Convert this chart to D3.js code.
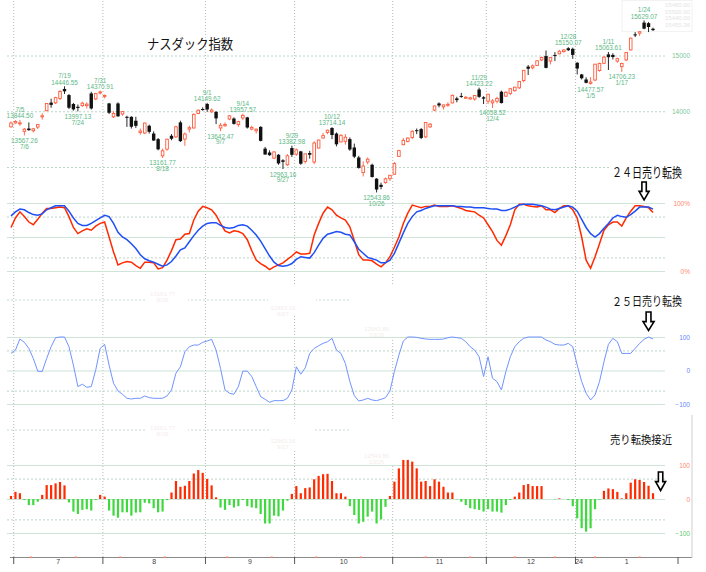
<!DOCTYPE html>
<html>
<head>
<meta charset="utf-8">
<script src="https://cdn.jsdelivr.net/npm/d3@7"></script>
<style>
  body { margin: 0; background: #fff; }
  #chart text { font-family: "Liberation Sans", Arial, sans-serif; }
  #chart text.jp { font-family: "Noto Sans CJK JP", sans-serif; }
</style>
</head>
<body>
<div id="chart"></div>
<script>
// trading days, 2023-06-30 .. 2024-01-26
const dates = [
  "6/30","7/3","7/5","7/6","7/7","7/10","7/11","7/12","7/13","7/14",
  "7/17","7/18","7/19","7/20","7/21","7/24","7/25","7/26","7/27","7/28",
  "7/31","8/1","8/2","8/3","8/4","8/7","8/8","8/9","8/10","8/11",
  "8/14","8/15","8/16","8/17","8/18","8/21","8/22","8/23","8/24","8/25",
  "8/28","8/29","8/30","8/31","9/1","9/5","9/6","9/7","9/8","9/11",
  "9/12","9/13","9/14","9/15","9/18","9/19","9/20","9/21","9/22","9/25",
  "9/26","9/27","9/28","9/29","10/2","10/3","10/4","10/5","10/6","10/9",
  "10/10","10/11","10/12","10/13","10/16","10/17","10/18","10/19","10/20","10/23",
  "10/24","10/25","10/26","10/27","10/30","10/31","11/1","11/2","11/3","11/6",
  "11/7","11/8","11/9","11/10","11/13","11/14","11/15","11/16","11/17","11/20",
  "11/21","11/22","11/24","11/27","11/28","11/29","11/30","12/1","12/4","12/5",
  "12/6","12/7","12/8","12/11","12/12","12/13","12/14","12/15","12/18","12/19",
  "12/20","12/21","12/22","12/26","12/27","12/28","12/29","1/2","1/3","1/4",
  "1/5","1/8","1/9","1/10","1/11","1/12","1/16","1/17","1/18","1/19",
  "1/22","1/23","1/24","1/25","1/26"
]

const open = [
  13720,13790,13775,13640,13690,13650,13716,13900,14010,14155,
  14150,14230,14400,14290,14130,14080,14100,14100,14320,14220,
  14330,14280,14140,13900,14140,13950,13900,13900,13830,13620,
  13610,13740,13600,13500,13200,13320,13560,13540,13800,13500,
  13680,13700,13960,14040,14130,13990,13990,13700,13740,13860,
  13870,13760,13880,13890,13680,13650,13720,13330,13260,13160,
  13220,13120,13040,13340,13230,13280,13100,13250,13090,13340,
  13520,13620,13700,13600,13450,13460,13500,13350,13170,12900,
  13090,13040,12790,12680,12720,12790,12870,13190,13400,13460,
  13530,13660,13680,13540,13720,14020,14140,14080,14110,14150,
  14230,14275,14240,14220,14220,14390,14250,14180,14150,14180,
  14350,14270,14320,14370,14420,14550,14800,14780,14820,14920,
  14990,14900,15010,15030,15070,15130,15120,14870,14660,14570,
  14500,14560,14730,14860,15020,15010,14900,14800,14920,15100,
  15380,15400,15590,15580,15480
]

const high = [
  13816,13839,13844.50,13700,13800,13700,13765,13964,14146,14224,
  14260,14380,14446.55,14310,14150,14120,14170,14160,14350,14330,
  14370.91,14300,14150,14000,14160,14000,13920,13910,13900,13690,
  13795,13760,13640,13520,13330,13510,13590,13740,13830,13620,
  13740,13960,14030,14070,14149.62,14050,14000,13790,13800,13930,
  13890,13830,13957.57,13900,13740,13690,13730,13360,13300,13280,
  13230,13140,13230,13382.98,13330,13290,13240,13290,13460,13490,
  13610,13670,13714.14,13620,13590,13590,13530,13420,13200,13100,
  13170,13060,12800,12720,12810,12860,13090,13310,13520,13530,
  13660,13690,13700,13800,13790,14100,14160,14120,14160,14300,
  14260,14330,14270,14260,14290,14423.22,14270,14310,14220,14260,
  14370,14360,14420,14440,14540,14740,14830,14840,14920,14980,
  15090,14970,15060,15100,15115,15150.07,15140,14880,14670,14610,
  14610,14850,14870,14990,15063.61,15040,14960,14870,15060,15320,
  15420,15430,15629.07,15600,15500
]

const low = [
  13708,13777,13740,13567.26,13650,13620,13680,13850,14000,14064,
  14130,14200,14310,14040,14010,13997.13,14080,14050,14030,14200,
  14300,14230,13950,13880,13900,13920,13720,13690,13700,13580,
  13590,13600,13470,13300,13161.77,13290,13480,13520,13450,13380,
  13620,13690,13950,14010,13990,13970,13770,13642.47,13720,13840,
  13760,13720,13840,13690,13660,13600,13460,13220,13200,13140,
  13040,12963.16,13020,13180,13200,13040,13060,13150,13050,13330,
  13510,13590,13500,13370,13440,13400,13290,13160,12970,12830,
  13050,12810,12543.86,12600,12700,12750,12860,13180,13390,13440,
  13500,13590,13500,13520,13700,14000,14070,14030,14080,14140,
  14160,14240,14230,14210,14190,14240,14130,14130,14058.52,14140,
  14140,14260,14290,14350,14400,14520,14650,14750,14810,14900,
  14770,14840,14900,15020,15050,15080,14940,14660,14570,14500,
  14477.57,14540,14710,14850,14740,14930,14870,14706.23,14900,15090,
  15330,15350,15470,15420,15440
]

const close = [
  13788,13817,13792,13679,13661,13685,13761,13919,14139,14114,
  14245,14354,14358,14063,14033,14059,14145,14127,14050,14317,
  14346,14284,13973,13960,13909,13994,13884,13722,13738,13645,
  13788,13631,13475,13317,13291,13498,13506,13721,13464,13591,
  13705,13944,14019,14035,14032,14021,13872,13749,13762,13918,
  13774,13814,13926,13708,13710,13678,13469,13224,13212,13271,
  13064,13093,13201,13219,13308,13059,13236,13220,13431,13484,
  13563,13660,13574,13407,13568,13534,13314,13186,12984,13018,
  13140,12821,12596,12643,12789,12851,13061,13294,13478,13519,
  13640,13650,13521,13798,13768,14094,14104,14114,14125,14285,
  14200,14266,14251,14241,14282,14258,14226,14305,14185,14230,
  14147,14340,14404,14432,14533,14734,14762,14814,14905,14964,
  14778,14963,14993,15075,15099,15095,15011,14766,14592,14510,
  14524,14844,14858,14970,14970,14973,14944,14856,15056,15311,
  15360,15426,15482,15511,15455.36
]

// days whose high / low is annotated
const peakDays = [2, 12, 20, 44, 52, 63, 72, 105, 125, 134, 142]
const troughDays = [3, 15, 34, 47, 61, 82, 108, 130, 137]

// stochastics (%), red = fast, blue = slow
const stochK = [
  64,78,87,80,72,68,76,85,92,92,
  93,94,93,80,64,55,59,62,60,66,
  70,72,50,28,9,12,14,13,8,4,
  13,13,12,3,5,16,30,46,47,54,
  55,75,88,95,93,90,82,70,59,56,
  59,58,55,46,30,16,11,7,2,6,
  9,12,17,22,28,25,25,26,53,70,
  85,94,90,82,78,75,65,45,24,16,
  16,15,10,6,12,21,35,50,70,85,
  97,95,93,95,95,97,95,95,95,96,
  94,92,89,88,87,82,78,68,58,45,
  38,52,68,90,98,98,96,95,94,96,
  90,90,86,92,96,96,90,78,50,16,
  4,21,40,60,68,72,72,66,78,88,
  96,96,95,93,86
]
const stochD = [
  81,87,91,90,86,83,82,84,90,93,
  96,96,96,88,78,70,67,67,70,74,
  78,82,80,70,57,50,46,40,33,24,
  18,15,13,10,7,9,14,22,31,34,
  43,52,60,66,70,71,71,67,64,63,
  64,67,68,66,60,53,44,33,22,13,
  8,7,8,11,17,21,20,19,27,38,
  48,54,56,58,57,54,53,43,32,26,
  20,18,16,12,12,16,26,41,56,70,
  80,87,89,92,94,96,96,96,96,96,
  95,95,94,94,93,93,93,92,91,91,
  89,89,91,94,97,98,98,98,97,96,
  94,91,90,92,94,96,94,88,76,64,
  55,50,55,63,70,78,82,80,79,83,
  88,94,94,94,91
]

// 25-day line (-100 .. 100)
const turn25 = [
  51,61,94,84,66,36,-2,-3,36,71,
  98,100,100,71,16,-48,-41,-50,-48,1,
  66,78,16,-38,-61,-71,-83,-85,-83,-83,
  -76,-81,-83,-83,-83,-76,-58,-8,11,56,
  71,76,76,84,88,93,61,6,-58,-68,
  -71,-48,-2,-2,-18,-48,-78,-86,-95,-90,
  -90,-90,-83,-58,11,-11,8,51,66,74,
  81,86,96,61,51,21,-33,-75,-91,-88,
  -83,-88,-90,-86,-81,-61,-3,46,88,100,
  100,99,96,94,93,93,93,94,98,100,
  98,96,86,71,61,41,-18,41,-23,-33,
  -58,-3,41,71,86,96,100,100,100,100,
  91,86,78,76,76,81,71,16,-33,-68,
  -88,-73,-33,26,78,96,86,51,51,51,
  66,81,93,100,94
]

// approach histogram
const approach = [
  9,21,17,-3,-18,-18,-8,12,41,41,
  46,50,40,-10,-37,-44,-32,-30,-34,-3,
  12,7,-34,-49,-55,-39,-39,-49,-40,-39,
  -11,-13,-27,-39,-37,-3,19,53,36,39,
  53,75,85,77,59,40,5,-25,-32,-18,
  -25,-21,-3,-21,-25,-27,-44,-72,-72,-49,
  -51,-34,-5,15,38,17,32,34,58,68,
  73,74,53,17,17,7,-21,-47,-72,-67,
  -52,-37,-72,-60,-23,9,51,90,115,115,
  110,90,51,53,38,58,51,36,19,19,
  -1,-8,-18,-27,-30,-32,-37,-30,-37,-37,
  -40,-18,-3,7,19,41,44,38,38,38,
  0,0,-1,2,0,-3,-21,-57,-86,-96,
  -86,-30,-2,24,31,29,21,2,17,48,
  58,56,50,39,17
]

// axis ticks (positions in trading-day index)
const monthBreaks = [0.5, 20.5, 43.5, 63.5, 85.5, 106.5, 126.5, 149.5]
const monthMids = [10.5, 32, 53.5, 74.5, 96, 116.5, 138]
const monthLabels = ["7", "8", "9", "10", "11", "12", "1"]
const yearTick = [127.3]
const yearLabel = ["24"]
const minorTicks = [4.5, 14.5, 24.5, 34.5, 48.5, 58.5, 68.5, 78.5, 93, 103, 113, 122, 131, 141]
const priceGrid = [13000, 14000, 15000]
const priceTicks = [14000, 15000]   // 13000 sits under the 24日 note
const stochGrid = [0, 20, 50, 80, 100]
const stochTicks = [0, 100]
const oscGrid = [-100, -60, 0, 60, 100]
const oscTicks = [-100, 0, 100]

const RED = "#ff5a3c"
const GREEN_TXT = "#5db887"

const svg = d3.select("#chart")
  .append("svg")
  .attr("width", 706)
  .attr("height", 572)
  .style("background", "#fff")

// scales
const x = d3.scaleLinear().domain([0, 144]).range([11, 653])
const yPrice = d3.scaleLinear().domain([13000, 15000]).range([167, 55.5])
const yStoch = d3.scaleLinear().domain([0, 100]).range([271, 203])
const yTurn = d3.scaleLinear().domain([-100, 100]).range([404, 337])
const yBar = d3.scaleLinear().domain([-100, 100]).range([533, 465])

// faint legend box, top right
const last = close.length - 1
const legend = svg.append("g").attr("fill", "#e4e4e4").style("font-size", "6px").attr("text-anchor", "end")
legend.append("rect").attr("x", 622).attr("y", 0.5).attr("width", 70).attr("height", 31)
  .attr("fill", "none").attr("stroke", "#f2f2f2")
;[open[last], high[last], low[last], close[last]].forEach((v, i) => {
  legend.append("text").attr("x", 690).attr("y", 7 + i * 6.5).text(v.toFixed(2))
})

// vertical month grid
const vg = svg.append("g")
  .attr("transform", "translate(0,557)")
  .call(d3.axisTop(x).tickValues(monthBreaks.slice(0, 7)).tickSize(557).tickFormat(""))
vg.select(".domain").remove()
vg.selectAll("line").attr("stroke", "#b8b8b8").attr("stroke-dasharray", "1,2")

// horizontal grid helper
function hGrid(scale, values, dashedValues) {
  const g = svg.append("g")
    .attr("transform", "translate(7,0)")
    .call(d3.axisRight(scale).tickValues(values).tickSize(658).tickFormat(""))
  g.select(".domain").remove()
  g.selectAll(".tick line")
    .attr("stroke", d => dashedValues.includes(d) ? "#bcd6c6" : "#cfe3d7")
    .attr("stroke-dasharray", d => dashedValues.includes(d) ? "2,2" : null)
}
hGrid(yPrice, priceGrid, priceGrid)
hGrid(yStoch, stochGrid, [20, 80])
hGrid(yTurn, oscGrid, [-60, 60])
hGrid(yBar, oscGrid, [-60, 60])

// ghost 13000 lines that show through the lower panels
svg.append("g").selectAll("line").data([300, 430]).join("line")
  .attr("x1", 7).attr("x2", 352).attr("y1", d => d).attr("y2", d => d)
  .attr("stroke", "#c4dacb").attr("stroke-dasharray", "2,2")

// faded label patches covering the grid
const ghosts = [
  [147, 285, 41, 16], [268, 285, 48, 31], [350, 285, 49, 52],
  [147, 420, 41, 14], [269, 420, 45, 31], [350, 420, 49, 44]
]
svg.append("g").selectAll("rect").data(ghosts).join("rect")
  .attr("x", d => d[0]).attr("y", d => d[1]).attr("width", d => d[2]).attr("height", d => d[3])
  .attr("fill", "#fff")
const ghostText = svg.append("g").attr("fill", "#f5ecec").style("font-size", "6px").attr("text-anchor", "middle")
;[[34, 296], [61, 310], [82, 331], [34, 430], [61, 443], [82, 458]].forEach(([i, yy]) => {
  ghostText.append("text").attr("x", x(i)).attr("y", yy).text(low[i].toFixed(2))
  ghostText.append("text").attr("x", x(i)).attr("y", yy + 6).text(dates[i])
})

// candles
const isUp = i => close[i] >= open[i]
const candles = svg.append("g").selectAll("g").data(dates).join("g")
candles.append("line")
  .attr("x1", (d, i) => x(i)).attr("x2", (d, i) => x(i))
  .attr("y1", (d, i) => yPrice(high[i])).attr("y2", (d, i) => yPrice(low[i]))
  .attr("stroke", (d, i) => isUp(i) ? RED : "#111")
  .attr("stroke-width", 0.9)
candles.append("rect")
  .attr("x", (d, i) => x(i) - (isUp(i) ? 1.3 : 1.7))
  .attr("width", (d, i) => isUp(i) ? 2.6 : 3.4)
  .attr("y", (d, i) => yPrice(Math.max(open[i], close[i])))
  .attr("height", (d, i) => Math.max(1, Math.abs(yPrice(open[i]) - yPrice(close[i]))))
  .attr("fill", (d, i) => isUp(i) ? "#fff" : "#111")
  .attr("stroke", (d, i) => isUp(i) ? RED : "none")
  .attr("stroke-width", 0.9)

// high / low annotations
const notes = svg.append("g").attr("fill", GREEN_TXT).style("font-size", "6.4px").attr("text-anchor", "middle")
peakDays.forEach(i => {
  notes.append("text").attr("x", x(i)).attr("y", yPrice(high[i]) - 8).text(dates[i])
  notes.append("text").attr("x", x(i)).attr("y", yPrice(high[i]) - 1.8).text(high[i].toFixed(2))
})
troughDays.forEach(i => {
  notes.append("text").attr("x", x(i)).attr("y", yPrice(low[i]) + 7.5).text(low[i].toFixed(2))
  notes.append("text").attr("x", x(i)).attr("y", yPrice(low[i]) + 13.3).text(dates[i])
})

// stochastic lines
svg.append("path")
  .datum(stochK)
  .attr("fill", "none").attr("stroke", "#ff2a00").attr("stroke-width", 1.5)
  .attr("d", d3.line().x((d, i) => x(i)).y(d => yStoch(d)))
svg.append("path")
  .datum(stochD)
  .attr("fill", "none").attr("stroke", "#1f4ff5").attr("stroke-width", 1.5)
  .attr("d", d3.line().x((d, i) => x(i)).y(d => yStoch(d)))

// 25-day line
svg.append("path")
  .datum(turn25)
  .attr("fill", "none").attr("stroke", "#7093ff").attr("stroke-width", 1)
  .attr("d", d3.line().x((d, i) => x(i)).y(d => yTurn(d)))

// histogram
svg.append("g").selectAll("rect").data(approach).join("rect")
  .attr("x", (d, i) => x(i) - 1.1)
  .attr("width", 2.2)
  .attr("y", d => d >= 0 ? yBar(d) : yBar(0))
  .attr("height", d => Math.abs(yBar(d) - yBar(0)))
  .attr("fill", d => d >= 0 ? "#ff2a00" : "#3fd83f")

// right-hand value labels
function rightAxis(scale, values, fmt, color) {
  const g = svg.append("g")
    .attr("transform", "translate(690,0)")
    .call(d3.axisLeft(scale).tickValues(values).tickSize(0).tickPadding(0).tickFormat(fmt))
  g.select(".domain").remove()
  g.selectAll("text")
    .attr("fill", typeof color === "function" ? color : () => color)
    .style("font-size", "6.5px")
  return g
}
rightAxis(yPrice, priceTicks, d3.format("d"), "#7cc59d")
rightAxis(yStoch, stochTicks, d => d + "%", "#ff8a70")
rightAxis(yTurn, oscTicks, d3.format("d"), "#5f86ff")
rightAxis(yBar, oscTicks, d3.format("d"), d => d < 0 ? "#5ccc70" : "#ff8a70")

// bottom axis
svg.append("line").attr("x1", 10).attr("x2", 692).attr("y1", 557.5).attr("y2", 557.5)
  .attr("stroke", "#8a8a8a")
svg.append("line").attr("x1", 692).attr("x2", 692).attr("y1", 415).attr("y2", 557.5)
  .attr("stroke", "#d0d0d0")
const ticksG = svg.append("g").attr("transform", "translate(0,557)")
  .call(d3.axisBottom(x).tickValues(monthBreaks).tickSize(7).tickFormat(""))
ticksG.select(".domain").remove()
ticksG.selectAll("line").attr("stroke", "#555")
svg.append("g").selectAll("rect").data(minorTicks).join("rect")
  .attr("x", d => x(d) - 1).attr("y", 556.5).attr("width", 2).attr("height", 1.5)
  .attr("fill", "#ff7a60")
const monthG = svg.append("g").attr("transform", "translate(0,557)")
  .call(d3.axisBottom(x).tickValues(monthMids).tickSize(0).tickPadding(2)
    .tickFormat((d, i) => monthLabels[i]))
monthG.select(".domain").remove()
monthG.selectAll("text").attr("fill", "#444").style("font-size", "7px")
const yearG = svg.append("g").attr("transform", "translate(0,557)")
  .call(d3.axisBottom(x).tickValues(yearTick).tickSize(0).tickPadding(2)
    .tickFormat((d, i) => yearLabel[i]))
yearG.select(".domain").remove()
yearG.selectAll("text").attr("fill", "#444").style("font-size", "7px")

// titles
svg.append("text").attr("class", "jp")
  .attr("x", 147).attr("y", 49)
  .attr("textLength", 86).attr("lengthAdjust", "spacingAndGlyphs")
  .style("font-size", "13.5px").attr("fill", "#111")
  .text("ナスダック指数")

function note(txt, x0, base, len, size) {
  svg.append("rect").attr("x", x0 - 2).attr("y", base - size).attr("width", len + 4).attr("height", size + 3)
    .attr("fill", "#fff")
  svg.append("text").attr("class", "jp")
    .attr("x", x0).attr("y", base)
    .attr("textLength", len).attr("lengthAdjust", "spacingAndGlyphs")
    .style("font-size", size + "px").attr("fill", "#111")
    .text(txt)
}
note("２４日売り転換", 612, 176.5, 70, 13)
note("２５日売り転換", 612, 306, 70, 12)
note("売り転換接近", 610, 444, 62, 11.5)

// hollow down arrows
function arrow(cx, top, w, h) {
  const sw = w * 0.22, hw = w / 2, mid = top + h * 0.52
  const p = d3.path()
  p.moveTo(cx - sw, top)
  p.lineTo(cx + sw, top)
  p.lineTo(cx + sw, mid)
  p.lineTo(cx + hw, mid)
  p.lineTo(cx, top + h)
  p.lineTo(cx - hw, mid)
  p.lineTo(cx - sw, mid)
  p.closePath()
  svg.append("path").attr("d", p.toString())
    .attr("fill", "#fff").attr("stroke", "#000").attr("stroke-width", 1.6)
    .attr("stroke-linejoin", "miter")
}
arrow(x(142), 182, 10, 18)
arrow(x(143), 312, 11, 18.5)
arrow(x(145.7), 472, 10, 18.5)
</script>
</body>
</html>
